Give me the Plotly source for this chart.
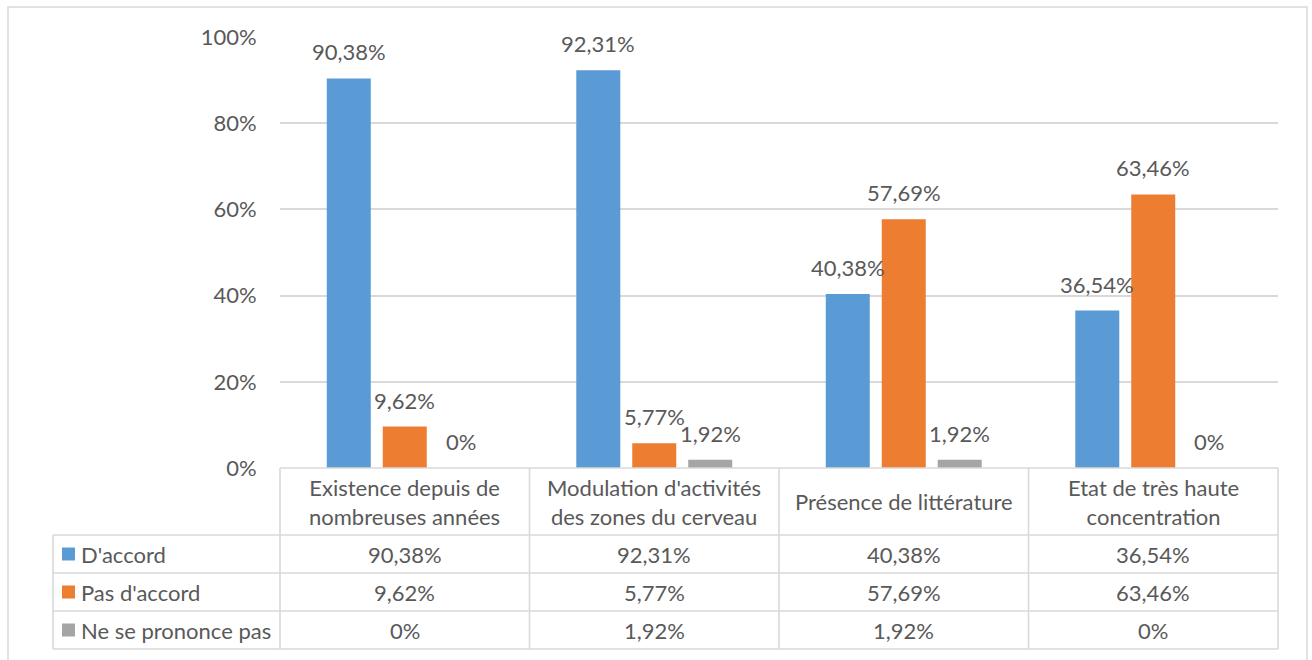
import plotly.graph_objects as go

categories = ["Existence depuis de nombreuses années",
              "Modulation d'activités des zones du cerveau",
              "Présence de littérature",
              "Etat de très haute concentration"]
header_labels = ["Existence depuis de<br>nombreuses années",
                 "Modulation d'activités<br>des zones du cerveau",
                 "Présence de littérature",
                 "Etat de très haute<br>concentration"]
series_names = ["D'accord", "Pas d'accord", "Ne se prononce pas"]
d_accord = [90.38, 92.31, 40.38, 36.54]
pas_d_accord = [9.62, 5.77, 57.69, 63.46]
ne_se_prononce = [0, 1.92, 1.92, 0]
y_ticks = [0, 20, 40, 60, 80, 100]
y_tick_labels = ["0%", "20%", "40%", "60%", "80%", "100%"]

series_values = [d_accord, pas_d_accord, ne_se_prononce]
colors = ["#5B9BD5", "#ED7D31", "#A5A5A5"]
TXT = "#595959"
GRID = "#D9D9D9"
FONT = "Lato"
FS = 22

W, H = 1312, 660
L, R, T, B = 280, 1278, 37, 468


def px(x):
    return (x - L) / (R - L)


def py(y):
    return (B - y) / (B - T)


def fmt(v):
    if v == 0:
        return "0%"
    return f"{v:.2f}".replace(".", ",") + "%"


fig = go.Figure()
for name, vals, col in zip(series_names, series_values, colors):
    fig.add_trace(go.Bar(x=categories, y=vals, name=name, marker_color=col,
                         marker_line_width=0))

shapes = []
annotations = []

# data labels
offsets = [-56, 0, 56]
for vals, off in zip(series_values, offsets):
    for c, v in zip(categories, vals):
        annotations.append(dict(x=c, y=v, xref="x", yref="y", text=fmt(v),
                                showarrow=False, xshift=off, yshift=11,
                                yanchor="bottom",
                                font=dict(family=FONT, size=FS, color=TXT)))

# outer border
shapes.append(dict(type="rect", xref="paper", yref="paper",
                   x0=px(8), x1=px(1307), y0=py(680), y1=py(7),
                   line=dict(color=GRID, width=1.5), layer="below"))

# data table
n = len(categories)
row_y = [535, 573, 611, 649]
LEG_X = 53
LW = 1.6
shapes.append(dict(type="line", xref="paper", yref="paper", x0=0, x1=1,
                   y0=0, y1=0, line=dict(color=GRID, width=LW)))
for ry in row_y:
    shapes.append(dict(type="line", xref="paper", yref="paper", x0=px(LEG_X), x1=1,
                       y0=py(ry), y1=py(ry), line=dict(color=GRID, width=LW)))
shapes.append(dict(type="line", xref="paper", yref="paper", x0=px(LEG_X), x1=px(LEG_X),
                   y0=py(row_y[0]), y1=py(row_y[-1]), line=dict(color=GRID, width=LW)))
for i in range(n + 1):
    shapes.append(dict(type="line", xref="paper", yref="paper", x0=i / n, x1=i / n,
                       y0=0, y1=py(row_y[-1]), line=dict(color=GRID, width=LW)))

# header labels
for c, lab in zip(categories, header_labels):
    annotations.append(dict(x=c, xref="x", y=py((B + row_y[0]) / 2), yref="paper",
                            text=lab, showarrow=False, yanchor="middle",
                            font=dict(family=FONT, size=FS, color=TXT)))

# rows
tops = [row_y[0], row_y[1], row_y[2]]
bots = [row_y[1], row_y[2], row_y[3]]
for name, vals, col, t, b in zip(series_names, series_values, colors, tops, bots):
    cy = (t + b) / 2
    shapes.append(dict(type="rect", xref="paper", yref="paper",
                       x0=px(62), x1=px(75), y0=py(cy + 6.5), y1=py(cy - 6.5),
                       fillcolor=col, line=dict(width=0)))
    annotations.append(dict(x=px(79), xref="paper", y=py(cy), yref="paper",
                            text=name, showarrow=False, xanchor="left",
                            yanchor="middle",
                            font=dict(family=FONT, size=FS, color=TXT)))
    for c, v in zip(categories, vals):
        annotations.append(dict(x=c, xref="x", y=py(cy), yref="paper",
                                text=fmt(v), showarrow=False, yanchor="middle",
                                font=dict(family=FONT, size=FS, color=TXT)))

fig.update_layout(
    width=W, height=H,
    margin=dict(l=L, r=W - R, t=T, b=H - B, pad=0),
    paper_bgcolor="white", plot_bgcolor="white",
    barmode="group", bargap=0.327, bargroupgap=0.214,
    showlegend=False,
    font=dict(family=FONT, size=FS, color=TXT),
    shapes=shapes, annotations=annotations,
    xaxis=dict(showticklabels=False, showgrid=False, zeroline=False,
               showline=False, ticks=""),
    yaxis=dict(range=[0, 100], tickvals=y_ticks, ticktext=y_tick_labels,
               showgrid=True, gridcolor=GRID, gridwidth=1.5, zeroline=False,
               showline=False, ticks="outside", ticklen=18, tickcolor="rgba(0,0,0,0)",
               tickfont=dict(family=FONT, size=FS, color=TXT)),
)

fig.write_html("out.html")
